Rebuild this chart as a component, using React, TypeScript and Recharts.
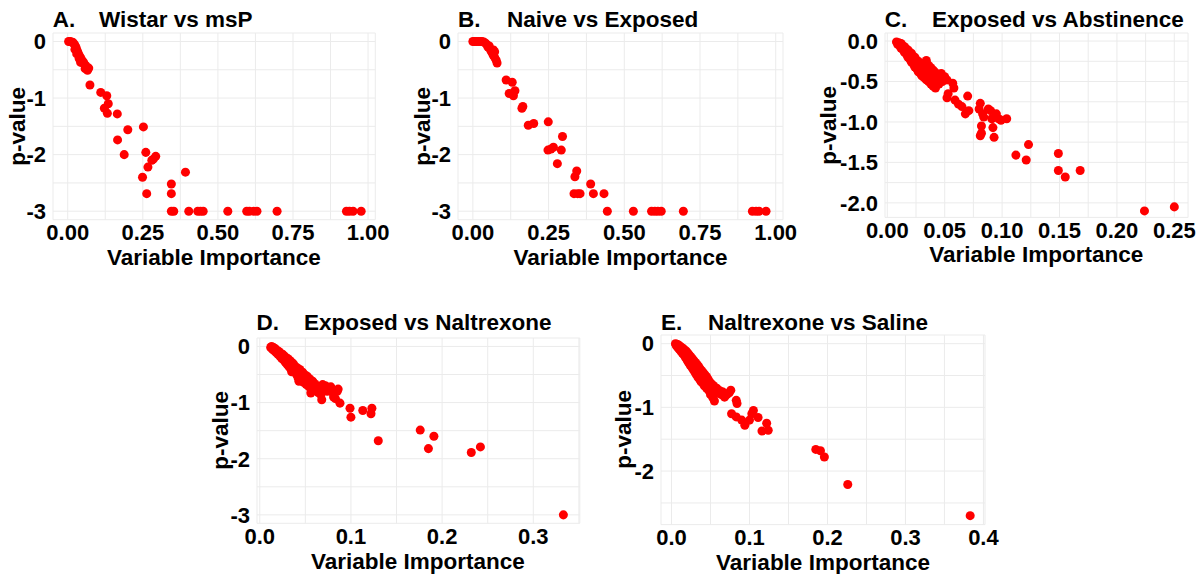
import React from 'react';
import { ScatterChart, Scatter, XAxis, YAxis, ZAxis, CartesianGrid } from 'recharts';

const FONT = '"Liberation Sans", Arial, Helvetica, sans-serif';

// ---------- data (Variable Importance, log10 p-value) ----------
const wistarVsMsP: [number, number][] = [
  [0.003, 0], [0.008, 0], [0.013, -0.01], [0.018, -0.02], [0.022, -0.05], [0.025, -0.08], [0.028, -0.11],
  [0.024, -0.14], [0.030, -0.15], [0.033, -0.18], [0.030, -0.22], [0.036, -0.22], [0.040, -0.26], [0.038, -0.30],
  [0.044, -0.30], [0.047, -0.34], [0.043, -0.37], [0.052, -0.36], [0.056, -0.40], [0.060, -0.43], [0.058, -0.48],
  [0.064, -0.46], [0.070, -0.47], [0.066, -0.51],
  [0.074, -0.77], [0.110, -0.90], [0.130, -0.96], [0.135, -1.10], [0.122, -1.18], [0.132, -1.27], [0.165, -1.28],
  [0.200, -1.56], [0.252, -1.51], [0.166, -1.74], [0.188, -2.0], [0.260, -1.96], [0.285, -2.08], [0.293, -2.03],
  [0.280, -2.10], [0.267, -2.22], [0.249, -2.40], [0.263, -2.69], [0.392, -2.31], [0.345, -2.52], [0.345, -2.69],
  [0.345, -3], [0.353, -3], [0.403, -3], [0.433, -3], [0.442, -3], [0.451, -3], [0.533, -3], [0.596, -3],
  [0.605, -3], [0.620, -3], [0.630, -3], [0.697, -3], [0.928, -3], [0.938, -3], [0.950, -3], [0.977, -3],
];

const naiveVsExposed: [number, number][] = [
  [0.0, 0], [0.006, 0], [0.012, 0], [0.018, 0], [0.024, 0], [0.030, 0], [0.036, -0.01], [0.042, -0.03],
  [0.047, -0.06], [0.050, -0.10], [0.054, -0.08], [0.057, -0.13], [0.060, -0.17], [0.064, -0.20], [0.068, -0.15],
  [0.072, -0.18], [0.067, -0.24], [0.072, -0.28], [0.077, -0.33], [0.080, -0.38],
  [0.110, -0.68], [0.130, -0.72], [0.120, -0.92], [0.139, -0.87], [0.134, -0.96], [0.165, -1.15], [0.162, -1.18],
  [0.183, -1.48], [0.201, -1.45], [0.249, -1.42], [0.296, -1.68], [0.248, -1.92], [0.258, -1.90], [0.266, -1.87],
  [0.292, -1.92], [0.279, -2.16], [0.343, -2.29], [0.337, -2.39], [0.389, -2.52], [0.334, -2.69], [0.346, -2.69],
  [0.354, -2.69], [0.398, -2.69], [0.433, -2.69],
  [0.444, -3], [0.530, -3], [0.590, -3], [0.601, -3], [0.611, -3], [0.622, -3], [0.695, -3], [0.923, -3],
  [0.935, -3], [0.945, -3], [0.968, -3],
];

const exposedVsAbstinence: [number, number][] = [
  [0.008, -0.01], [0.009, -0.04], [0.010, -0.02], [0.011, -0.06], [0.012, -0.03], [0.012, -0.09], [0.013, -0.05],
  [0.014, -0.11], [0.015, -0.07], [0.015, -0.14], [0.016, -0.09], [0.017, -0.17], [0.018, -0.11], [0.018, -0.20],
  [0.019, -0.13], [0.020, -0.23], [0.021, -0.15], [0.021, -0.26], [0.022, -0.18], [0.023, -0.29], [0.024, -0.20],
  [0.024, -0.32], [0.025, -0.23], [0.026, -0.35], [0.027, -0.25], [0.027, -0.38], [0.028, -0.28], [0.029, -0.40],
  [0.030, -0.30], [0.030, -0.43], [0.031, -0.33], [0.032, -0.45], [0.033, -0.35], [0.033, -0.27], [0.034, -0.24],
  [0.034, -0.48], [0.035, -0.38], [0.036, -0.30], [0.036, -0.50], [0.037, -0.41], [0.038, -0.33], [0.038, -0.53],
  [0.039, -0.44], [0.040, -0.36], [0.040, -0.56], [0.041, -0.47], [0.042, -0.39], [0.042, -0.58], [0.043, -0.50],
  [0.044, -0.42], [0.045, -0.53], [0.046, -0.45], [0.047, -0.40], [0.048, -0.50],
  [0.050, -0.44], [0.052, -0.48], [0.057, -0.52], [0.058, -0.58], [0.053, -0.65], [0.052, -0.70], [0.059, -0.73],
  [0.062, -0.78], [0.065, -0.81], [0.070, -0.68], [0.068, -0.90], [0.071, -0.86], [0.081, -0.77], [0.080, -0.84],
  [0.083, -0.90], [0.084, -0.94], [0.088, -0.84], [0.090, -0.86], [0.095, -0.90], [0.091, -0.96], [0.097, -0.96],
  [0.099, -0.98], [0.104, -0.96], [0.082, -1.05], [0.082, -1.14], [0.081, -1.17], [0.092, -1.07], [0.093, -1.19],
  [0.112, -1.41], [0.121, -1.47], [0.123, -1.28], [0.149, -1.39], [0.149, -1.60], [0.155, -1.68], [0.168, -1.60],
  [0.224, -2.10], [0.250, -2.05],
];

const exposedVsNaltrexone: [number, number][] = [
  [0.012, -0.02], [0.013, 0.0], [0.014, -0.05], [0.015, -0.02], [0.016, -0.08], [0.017, -0.04], [0.018, -0.11],
  [0.019, -0.07], [0.020, -0.14], [0.021, -0.09], [0.022, -0.17], [0.023, -0.12], [0.024, -0.21], [0.025, -0.14],
  [0.026, -0.24], [0.027, -0.17], [0.028, -0.28], [0.029, -0.20], [0.030, -0.32], [0.031, -0.22], [0.032, -0.36],
  [0.033, -0.25], [0.034, -0.40], [0.035, -0.28], [0.035, -0.45], [0.036, -0.33], [0.037, -0.31], [0.038, -0.43],
  [0.039, -0.36], [0.040, -0.49], [0.041, -0.38], [0.042, -0.56], [0.042, -0.44], [0.043, -0.62], [0.044, -0.41],
  [0.045, -0.52], [0.046, -0.58], [0.047, -0.46], [0.048, -0.64], [0.049, -0.50], [0.050, -0.56], [0.051, -0.68],
  [0.052, -0.53], [0.053, -0.62], [0.054, -0.72], [0.055, -0.58], [0.056, -0.83], [0.057, -0.68], [0.058, -0.62],
  [0.059, -0.74], [0.060, -0.66], [0.061, -0.78], [0.063, -0.70], [0.064, -0.82], [0.066, -0.72], [0.067, -0.86],
  [0.068, -0.95], [0.069, -0.68], [0.070, -0.76], [0.072, -0.70], [0.074, -0.80], [0.076, -0.74], [0.078, -0.72],
  [0.080, -0.82], [0.081, -0.90], [0.083, -0.93], [0.085, -0.80], [0.086, -0.76], [0.088, -1.01],
  [0.099, -1.10], [0.100, -1.26], [0.113, -1.14], [0.123, -1.10], [0.122, -1.20], [0.130, -1.68], [0.176, -1.49],
  [0.185, -1.82], [0.191, -1.60], [0.232, -1.89], [0.242, -1.79], [0.333, -3.0],
];

const naltrexoneVsSaline: [number, number][] = [
  [0.005, 0.0], [0.006, -0.03], [0.007, -0.01], [0.008, -0.06], [0.009, -0.02], [0.010, -0.09], [0.011, -0.04],
  [0.012, -0.12], [0.013, -0.06], [0.014, -0.15], [0.015, -0.08], [0.016, -0.18], [0.017, -0.10], [0.018, -0.22],
  [0.019, -0.12], [0.020, -0.26], [0.021, -0.15], [0.022, -0.30], [0.023, -0.18], [0.024, -0.34], [0.025, -0.21],
  [0.026, -0.37], [0.027, -0.24], [0.028, -0.41], [0.029, -0.27], [0.030, -0.45], [0.031, -0.30], [0.032, -0.49],
  [0.033, -0.33], [0.034, -0.53], [0.035, -0.36], [0.036, -0.56], [0.037, -0.40], [0.038, -0.60], [0.039, -0.43],
  [0.040, -0.62], [0.041, -0.46], [0.042, -0.66], [0.043, -0.49], [0.045, -0.70], [0.045, -0.52], [0.047, -0.56],
  [0.048, -0.74], [0.049, -0.60], [0.050, -0.80], [0.051, -0.63], [0.052, -0.70], [0.053, -0.85], [0.054, -0.66],
  [0.055, -0.90], [0.056, -0.74], [0.058, -0.70], [0.060, -0.78], [0.062, -0.74], [0.064, -0.80], [0.066, -0.76],
  [0.068, -0.84], [0.071, -0.80], [0.074, -0.77], [0.076, -0.73], [0.083, -0.89], [0.084, -0.94], [0.077, -1.10],
  [0.083, -1.15], [0.090, -1.20], [0.094, -1.28], [0.103, -1.10], [0.105, -1.05], [0.100, -1.20], [0.111, -1.16],
  [0.116, -1.37], [0.122, -1.25], [0.124, -1.36], [0.185, -1.66], [0.191, -1.68], [0.196, -1.78], [0.226, -2.21],
  [0.383, -2.70],
];

// ---------- ticks ----------
const ticksX1 = [0, 0.125, 0.25, 0.375, 0.5, 0.625, 0.75, 0.875, 1];
const labelsX1: [number, string][] = [[0, '0.00'], [0.25, '0.25'], [0.5, '0.50'], [0.75, '0.75'], [1, '1.00']];
const ticksY3 = [-3, -2.5, -2, -1.5, -1, -0.5, 0];
const labelsY3: [number, string][] = [[0, '0'], [-1, '-1'], [-2, '-2'], [-3, '-3']];
const ticksXC = [0, 0.025, 0.05, 0.075, 0.1, 0.125, 0.15, 0.175, 0.2, 0.225, 0.25];
const labelsXC: [number, string][] = [[0, '0.00'], [0.05, '0.05'], [0.1, '0.10'], [0.15, '0.15'], [0.2, '0.20'], [0.25, '0.25']];
const ticksYC = [-2, -1.75, -1.5, -1.25, -1, -0.75, -0.5, -0.25, 0];
const labelsYC: [number, string][] = [[0, '0.0'], [-0.5, '-0.5'], [-1, '-1.0'], [-1.5, '-1.5'], [-2, '-2.0']];
const ticksXD = [0, 0.05, 0.1, 0.15, 0.2, 0.25, 0.3, 0.35];
const labelsXD: [number, string][] = [[0, '0.0'], [0.1, '0.1'], [0.2, '0.2'], [0.3, '0.3']];
const ticksXE = [0, 0.05, 0.1, 0.15, 0.2, 0.25, 0.3, 0.35, 0.4];
const labelsXE: [number, string][] = [[0, '0.0'], [0.1, '0.1'], [0.2, '0.2'], [0.3, '0.3'], [0.4, '0.4']];
const ticksYE = [-2.5, -2, -1.5, -1, -0.5, 0];
const labelsYE: [number, string][] = [[0, '0'], [-1, '-1'], [-2, '-2']];

type PanelCfg = {
  letter: string;
  title: string;
  data: [number, number][];
  xDomain: [number, number];
  yDomain: [number, number];
  xTicks: number[];
  xLabels: [number, string][];
  yTicks: number[];
  yLabels: [number, string][];
  plot: { l: number; t: number; r: number; b: number };
  titleLeft: number;
  titleY: number;
  yTitleX: number;
};

const panels: PanelCfg[] = [
  {
    letter: 'A.', title: 'Wistar vs msP', data: wistarVsMsP,
    xDomain: [-0.049, 1.024], yDomain: [-3.15, 0.15],
    xTicks: ticksX1, xLabels: labelsX1, yTicks: ticksY3, yLabels: labelsY3,
    plot: { l: 52.7, t: 32.5, r: 375, b: 219.2 }, titleLeft: 99, titleY: 20, yTitleX: 18,
  },
  {
    letter: 'B.', title: 'Naive vs Exposed', data: naiveVsExposed,
    xDomain: [-0.049, 1.024], yDomain: [-3.15, 0.15],
    xTicks: ticksX1, xLabels: labelsX1, yTicks: ticksY3, yLabels: labelsY3,
    plot: { l: 458, t: 32.8, r: 783, b: 219.5 }, titleLeft: 507, titleY: 20, yTitleX: 423,
  },
  {
    letter: 'C.', title: 'Exposed vs Abstinence', data: exposedVsAbstinence,
    xDomain: [-0.002, 0.262], yDomain: [-2.18, 0.1],
    xTicks: ticksXC, xLabels: labelsXC, yTicks: ticksYC, yLabels: labelsYC,
    plot: { l: 884.7, t: 32.6, r: 1187.8, b: 217 }, titleLeft: 932, titleY: 20, yTitleX: 829,
  },
  {
    letter: 'D.', title: 'Exposed vs Naltrexone', data: exposedVsNaltrexone,
    xDomain: [-0.003, 0.351], yDomain: [-3.15, 0.15],
    xTicks: ticksXD, xLabels: labelsXD, yTicks: ticksY3, yLabels: labelsY3,
    plot: { l: 256.5, t: 338, r: 579.3, b: 523.3 }, titleLeft: 304, titleY: 323, yTitleX: 220.5,
  },
  {
    letter: 'E.', title: 'Naltrexone vs Saline', data: naltrexoneVsSaline,
    xDomain: [-0.0135, 0.402], yDomain: [-2.84, 0.136],
    xTicks: ticksXE, xLabels: labelsXE, yTicks: ticksYE, yLabels: labelsYE,
    plot: { l: 661, t: 334.6, r: 985, b: 524.2 }, titleLeft: 708, titleY: 323, yTitleX: 623.5,
  },
];

const TICK_SIZE = 22;
const TITLE_SIZE = 22.5;
const LH = 0.7;
const YW = 80;
const XH = 50;
const MT = 6;
const MR = 40;
const XTICK_MARGIN = 5;
const XTITLE_GAP = 38;

const makeFmt = (labels: [number, string][]) => (v: number) => {
  const m = labels.find(([mv]) => Math.abs(mv - v) < 1e-9);
  return m ? m[1] : '';
};

const tickStyle = { fill: '#000000', fontSize: TICK_SIZE, fontWeight: 700, fontFamily: FONT };

const textBase: React.CSSProperties = {
  position: 'absolute',
  fontFamily: FONT,
  fontWeight: 700,
  color: '#000',
  whiteSpace: 'nowrap',
  lineHeight: LH,
  fontSize: TITLE_SIZE,
};

// top of a line box whose cap-height centre sits at y
const topFor = (y: number) => y - (LH / 2 - 0.01) * TITLE_SIZE;

function Panel({ p }: { p: PanelCfg }) {
  const { l, t, r, b } = p.plot;
  const w = r - l + YW + MR;
  const h = b - t + MT + XH;
  const pts = p.data.map(([x, y]) => ({ x, y }));
  const cx = (l + r) / 2;
  const cy = (t + b) / 2;
  return (
    <>
      <div style={{ position: 'absolute', left: l - YW, top: t - MT }}>
        <ScatterChart width={w} height={h} margin={{ top: MT, right: MR, bottom: 0, left: 0 }}>
          <CartesianGrid stroke="#ebebeb" strokeWidth={1} />
          <XAxis
            type="number" dataKey="x" domain={p.xDomain} ticks={p.xTicks} interval={0} allowDataOverflow
            height={XH} axisLine={false} tickLine={false} tickSize={0} tickMargin={XTICK_MARGIN}
            tickFormatter={makeFmt(p.xLabels)} tick={tickStyle}
          />
          <YAxis
            type="number" dataKey="y" domain={p.yDomain} ticks={p.yTicks} interval={0} allowDataOverflow
            width={YW} axisLine={false} tickLine={false} tickSize={0} tickMargin={7}
            tickFormatter={makeFmt(p.yLabels)} tick={tickStyle}
          />
          <ZAxis range={[60, 60]} />
          <Scatter data={pts} fill="#ff0000" isAnimationActive={false} />
        </ScatterChart>
      </div>
      <div style={{ ...textBase, left: l, top: topFor(p.titleY) }}>{p.letter}</div>
      <div style={{ ...textBase, left: p.titleLeft, top: topFor(p.titleY) }}>{p.title}</div>
      <div style={{ ...textBase, left: cx, top: topFor(b + XTITLE_GAP), transform: 'translateX(-50%)' }}>
        Variable Importance
      </div>
      <div
        style={{
          ...textBase, lineHeight: `${TITLE_SIZE}px`, left: p.yTitleX, top: cy - TITLE_SIZE / 2,
          transform: 'translateX(-50%) rotate(-90deg)',
        }}
      >
        p-value
      </div>
    </>
  );
}

export default function App() {
  return (
    <div
      style={{
        position: 'absolute', left: 0, top: 0, width: 1202, height: 574, background: '#ffffff', overflow: 'hidden',
      }}
    >
      {panels.map((p) => (
        <Panel key={p.letter} p={p} />
      ))}
    </div>
  );
}
